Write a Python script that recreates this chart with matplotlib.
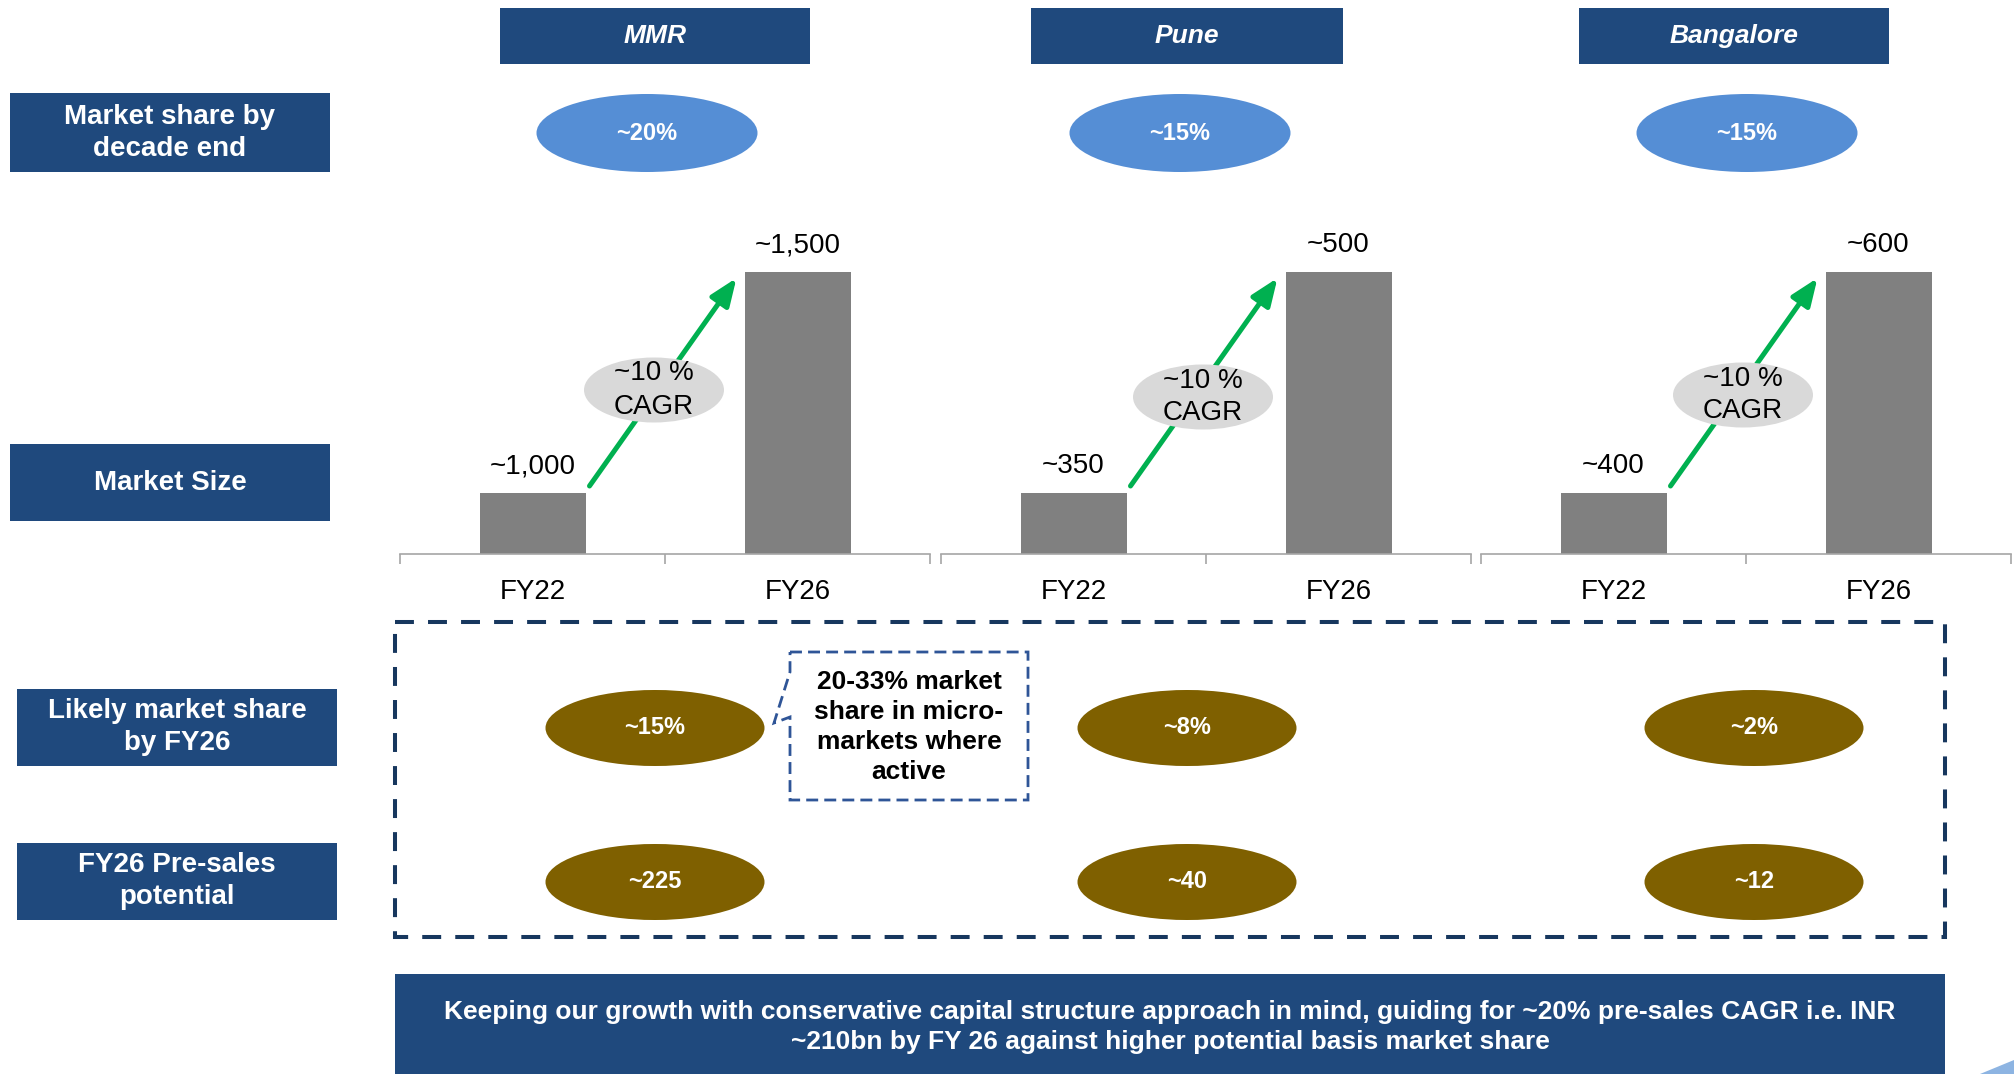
import matplotlib
matplotlib.use("Agg")
import matplotlib.pyplot as plt
from matplotlib.patches import Rectangle, Ellipse, PathPatch, Polygon
from matplotlib.path import Path

plt.rcParams["font.family"] = ["Liberation Sans", "DejaVu Sans"]

# Market size by region (INR bn), FY22 vs FY26
cities = ["MMR", "Pune", "Bangalore"]
years = ["FY22", "FY26"]
size_fy22 = [1000, 350, 400]
size_fy26 = [1500, 500, 600]
cagr_labels = ["~10 %\nCAGR", "~10 %\nCAGR", "~10 %\nCAGR"]
share_decade_end = ["~20%", "~15%", "~15%"]
share_fy26 = ["~15%", "~8%", "~2%"]
presales_fy26 = [225, 40, 12]
row_labels = ["Market share by\ndecade end", "Market Size",
              "Likely market share\nby FY26", "FY26 Pre-sales\npotential"]
callout_text = "20-33% market\nshare in micro-\nmarkets where\nactive"
footer_text = ("Keeping our growth with conservative capital structure approach in mind, "
               "guiding for ~20% pre-sales CAGR i.e. INR\n~210bn by FY 26 against higher "
               "potential basis market share")

NAVY = "#1F497D"
SKY = "#558ED5"
OLIVE = "#7F6000"
GREY_BAR = "#808080"
AXIS_GREY = "#A6A6A6"
GREEN = "#00B050"

W, H = 2014, 1074
fig = plt.figure(figsize=(W / 100, H / 100), dpi=100)
fig.patch.set_facecolor("white")

# pixel-space overlay for boxes, ovals and callouts
bg = fig.add_axes([0, 0, 1, 1])
bg.set_xlim(0, W)
bg.set_ylim(H, 0)
bg.axis("off")
bg.patch.set_visible(False)
bg.set_zorder(5)


def box(x0, y0, x1, y1, text, size=20, style="normal"):
    bg.add_patch(Rectangle((x0, y0), x1 - x0, y1 - y0, facecolor=NAVY, lw=0))
    bg.text((x0 + x1) / 2, (y0 + y1) / 2, text, ha="center", va="center",
            color="white", fontsize=size, fontweight="bold", fontstyle=style,
            linespacing=1.3)


def oval(cx, cy, w, h, text, face, color="white", size=17, bold=True):
    bg.add_patch(Ellipse((cx, cy), w, h, facecolor=face, lw=0))
    bg.text(cx, cy, text, ha="center", va="center", color=color, fontsize=size,
            fontweight="bold" if bold else "normal", linespacing=1.35)


# city headers
header_x = [(500, 810), (1031, 1343), (1579, 1889)]
for (x0, x1), city in zip(header_x, cities):
    box(x0, 8, x1, 64, city, size=19, style="italic")

# row labels on the left
row_boxes = [(10, 93, 330, 172), (10, 444, 330, 521),
             (17, 689, 337, 766), (17, 843, 337, 920)]
for (x0, y0, x1, y1), lab in zip(row_boxes, row_labels):
    box(x0, y0, x1, y1, lab)

# market share by decade end
sky_cx = [647, 1180, 1747]
for cx, lab in zip(sky_cx, share_decade_end):
    oval(cx, 133, 221, 78, lab, SKY)

# market size bar panels
ax_left = [400, 941, 1481]
ax_w = 530
base_y, top_y = 554, 200
ax_h = base_y - top_y
f1, f2 = 61 / ax_h, 282 / ax_h
cagr_c = [(654, 390), (1203, 397), (1743, 395)]

for i, city in enumerate(cities):
    ax = fig.add_axes([ax_left[i] / W, 1 - base_y / H, ax_w / W, ax_h / H])
    v1, v2 = size_fy22[i], size_fy26[i]
    span = (v2 - v1) / (f2 - f1)
    lo = v1 - f1 * span
    ax.set_ylim(lo, lo + span)
    ax.set_xlim(-0.5, 1.5)
    ax.patch.set_visible(False)

    ax.bar([0, 1], [v1, v2], width=0.4, color=GREY_BAR, zorder=2)
    for x, v in zip([0, 1], [v1, v2]):
        ax.annotate(f"~{v:,}", xy=(x, v), xytext=(0, 10), textcoords="offset points",
                    ha="center", va="bottom", fontsize=20, color="black")

    # growth arrow between the two bars
    d = span / ax_h
    ax.annotate("", xy=(0.8 - 8 / 265, v2 - 6 * d), xytext=(0.2 + 4 / 265, v1 + 7 * d),
                arrowprops=dict(arrowstyle="-|>,head_length=0.55,head_width=0.22",
                                color=GREEN, lw=3.6, mutation_scale=30,
                                shrinkA=0, shrinkB=0), zorder=3)

    ax.set_yticks([])
    ax.set_xticks([-0.5, 0.5, 1.5])
    ax.set_xticklabels([])
    ax.set_xticks([0, 1], minor=True)
    ax.set_xticklabels(years, minor=True, fontsize=20)
    ax.tick_params(axis="x", which="major", length=7, width=1.2, color=AXIS_GREY)
    ax.tick_params(axis="x", which="minor", length=0, pad=18)
    for s in ["top", "left", "right"]:
        ax.spines[s].set_visible(False)
    ax.spines["bottom"].set_color(AXIS_GREY)
    ax.spines["bottom"].set_linewidth(1.2)

    cx, cy = cagr_c[i]
    oval(cx, cy, 140, 65, cagr_labels[i], "#D9D9D9", color="black", size=20, bold=False)

# dashed frame around the FY26 outlook rows
bg.add_patch(Rectangle((395, 622), 1550, 315, fill=False, edgecolor="#17375E",
                       lw=2.9, linestyle=(0, (4.7, 3.5))))

olive_cx = [655, 1187, 1754]
for cx, s, p in zip(olive_cx, share_fy26, presales_fy26):
    oval(cx, 728, 219, 76, s, OLIVE)
    oval(cx, 882, 219, 76, f"~{p}", OLIVE)

# callout next to the MMR share oval
verts = [(790, 652), (1028, 652), (1028, 800), (790, 800), (790, 717),
         (774, 723), (790, 672), (790, 652)]
codes = [Path.MOVETO] + [Path.LINETO] * 6 + [Path.CLOSEPOLY]
bg.add_patch(PathPatch(Path(verts, codes), facecolor="white", edgecolor="#2F5597",
                       lw=2.0, linestyle=(0, (4.3, 2.2))))
bg.text(909, 727, callout_text, ha="center", va="center", fontsize=19,
        fontweight="bold", color="black", linespacing=1.3)

# footer banner
bg.add_patch(Rectangle((395, 974), 1550, 110, facecolor=NAVY, lw=0))
bg.text(1170, 1027, footer_text, ha="center", va="center", fontsize=19,
        fontweight="bold", color="white", linespacing=1.3)

bg.add_patch(Polygon([(1980, 1074), (2014, 1060), (2014, 1074)], closed=True,
                     facecolor="#8DB4E2", lw=0))

fig.savefig("out.png", dpi=100, facecolor="white")
